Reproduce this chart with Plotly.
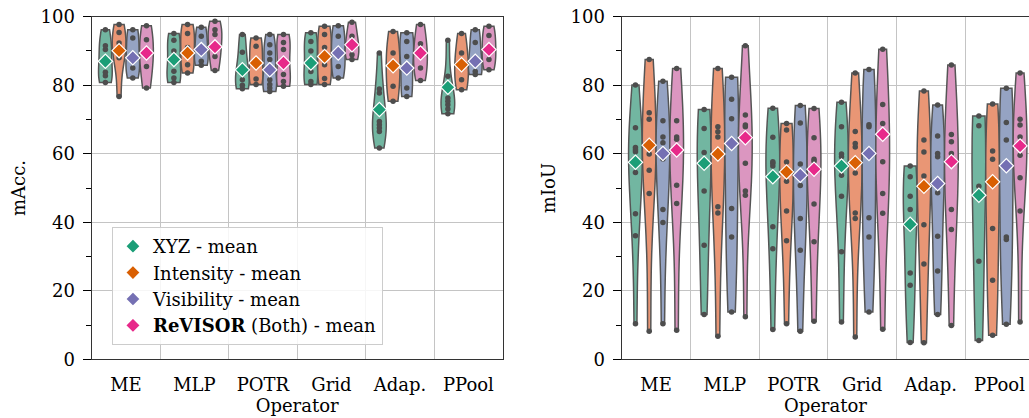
import colorsys
import numpy as np
import plotly.graph_objects as go

categories = ["ME", "MLP", "POTR", "Grid", "Adap.", "PPool"]
groups = ["XYZ", "Intensity", "Visibility", "ReVISOR"]
legend_names = ["XYZ - mean", "Intensity - mean", "Visibility - mean",
                "<b>ReVISOR</b> (Both) - mean"]

# ---- mAcc. observations (per operator) ----
macc_xyz = [
    [96.2, 91.5, 90.4, 83.8, 82.8, 80.8],
    [95.1, 93.1, 90.0, 84.1, 82.1, 80.8],
    [94.8, 89.6, 84.5, 81.6, 80.0, 79.0],
    [95.3, 92.8, 90.0, 84.0, 81.1, 80.2],
    [89.4, 78.9, 77.7, 69.4, 68.5, 67.5, 66.5, 61.7],
    [93.1, 82.6, 76.3, 75.3, 74.3, 73.1, 71.7],
]
macc_xyz_mean = [87.0, 87.5, 84.5, 86.5, 72.9, 79.4]
macc_intensity = [
    [97.7, 95.4, 92.3, 89.5, 88.0, 76.7],
    [97.7, 95.1, 91.0, 86.0, 83.6],
    [93.8, 91.4, 86.0, 81.8, 80.2],
    [97.2, 94.8, 91.0, 86.0, 82.0, 80.2],
    [95.7, 89.4, 86.0, 79.7, 75.3],
    [95.1, 89.4, 86.0, 81.6, 78.7],
]
macc_intensity_mean = [90.1, 89.4, 86.5, 88.4, 85.7, 86.0]
macc_visibility = [
    [96.2, 93.8, 88.0, 85.0, 82.1],
    [96.9, 94.3, 90.0, 87.0, 85.8],
    [94.8, 91.8, 89.4, 87.5, 81.6, 80.2, 79.2, 78.2],
    [97.4, 94.3, 89.5, 85.5, 82.1],
    [95.3, 92.8, 88.4, 79.2, 76.7],
    [96.2, 92.5, 87.0, 84.0, 83.1],
]
macc_visibility_mean = [88.0, 90.4, 84.5, 89.4, 85.0, 87.0]
macc_revisor = [
    [97.4, 93.3, 89.0, 85.5, 79.2],
    [98.7, 96.2, 94.8, 91.0, 88.4, 84.3],
    [94.8, 92.5, 90.4, 83.1, 81.1, 79.7],
    [98.4, 94.3, 91.5, 88.9, 87.5],
    [97.7, 92.1, 89.0, 85.0, 81.4],
    [97.2, 94.5, 90.5, 87.5, 84.5],
]
macc_revisor_mean = [89.4, 91.2, 86.5, 91.8, 89.4, 90.4]

# ---- mIoU observations (per operator) ----
miou_xyz = [
    [80.1, 67.6, 61.8, 61.2, 60.6, 54.5, 42.5, 36.1, 10.4],
    [72.9, 67.4, 60.4, 49.1, 33.3, 13.1],
    [73.3, 64.8, 57.7, 57.2, 56.4, 38.7, 32.3, 8.7],
    [75.0, 67.9, 59.9, 59.1, 53.7, 47.6, 31.4, 10.9],
    [56.4, 53.3, 47.6, 43.7, 25.2, 21.6, 4.9],
    [71.0, 68.2, 50.5, 28.6, 5.5],
]
miou_xyz_mean = [57.5, 57.2, 53.3, 56.4, 39.4, 47.9]
miou_intensity = [
    [87.5, 72.0, 70.1, 59.9, 55.2, 48.4, 8.2],
    [84.9, 67.9, 66.4, 64.9, 44.5, 42.7, 6.7],
    [68.8, 66.9, 57.6, 52.0, 43.3, 34.6, 10.4],
    [83.6, 66.5, 63.0, 62.0, 54.4, 42.7, 41.1, 6.5],
    [78.3, 64.0, 60.5, 53.5, 39.3, 27.8, 4.8],
    [74.5, 60.8, 58.4, 38.2, 23.1, 7.0],
]
miou_intensity_mean = [62.5, 59.9, 54.7, 57.4, 50.5, 51.8]
miou_visibility = [
    [81.2, 69.6, 64.9, 63.2, 58.5, 43.7, 39.9, 10.4],
    [82.3, 75.9, 70.2, 44.0, 35.7, 13.8],
    [74.1, 69.0, 57.0, 50.7, 41.1, 31.8, 8.2],
    [84.6, 68.5, 67.9, 41.3, 35.7, 13.8],
    [74.2, 65.2, 60.1, 59.1, 48.6, 35.9, 25.8, 13.1],
    [79.1, 69.1, 64.0, 35.7, 35.0, 10.2],
]
miou_visibility_mean = [60.1, 63.0, 53.7, 60.1, 51.3, 56.5]
miou_revisor = [
    [84.9, 69.6, 64.9, 64.2, 50.8, 45.5, 8.5],
    [91.5, 71.3, 68.4, 67.9, 57.2, 49.1, 47.9, 12.4],
    [73.2, 64.7, 58.4, 57.8, 45.3, 34.3, 11.1],
    [90.5, 74.4, 68.8, 57.7, 48.4, 42.6, 8.8],
    [85.9, 65.6, 63.5, 60.1, 43.7, 37.9, 9.9],
    [83.6, 70.1, 68.4, 64.9, 59.6, 53.0, 43.3, 10.9],
]
miou_revisor_mean = [61.1, 64.7, 55.5, 65.7, 57.7, 62.3]

y_ticks = [0, 20, 40, 60, 80, 100]
y_minor_ticks = [10, 30, 50, 70, 90]

# ---- styling ----
set2 = ["#66c2a5", "#fc8d62", "#8da0cb", "#e78ac3"]
mean_colors = ["#1b9e77", "#d95f02", "#7570b3", "#e7298a"]
FONT = "DejaVu Serif"
FS = 18


def desaturate(hexc, prop=0.75):
    r, g, b = (int(hexc[k:k + 2], 16) / 255 for k in (1, 3, 5))
    h, l, s = colorsys.rgb_to_hls(r, g, b)
    r, g, b = colorsys.hls_to_rgb(h, l, s * prop)
    return "rgb(%d,%d,%d)" % (round(r * 255), round(g * 255), round(b * 255))


fill_colors = [desaturate(c) for c in set2]

panels = [
    ("x", "y", [macc_xyz, macc_intensity, macc_visibility, macc_revisor],
     [macc_xyz_mean, macc_intensity_mean, macc_visibility_mean, macc_revisor_mean], True),
    ("x2", "y2", [miou_xyz, miou_intensity, miou_visibility, miou_revisor],
     [miou_xyz_mean, miou_intensity_mean, miou_visibility_mean, miou_revisor_mean], False),
]


def scott_bw(vals):
    v = np.asarray(vals, dtype=float)
    return float(np.std(v, ddof=1) * len(v) ** (-1 / 5))


fig = go.Figure()
slot = 0.2
for xa, ya, series, means, show_leg in panels:
    for j, data in enumerate(series):
        off = (j - (len(groups) - 1) / 2) * slot
        for i, vals in enumerate(data):
            fig.add_trace(go.Violin(
                x=[i + off] * len(vals), y=vals, xaxis=xa, yaxis=ya,
                width=slot, scalemode="width", spanmode="hard",
                bandwidth=scott_bw(vals),
                fillcolor=fill_colors[j], opacity=1,
                line=dict(color="#555555", width=1.5),
                points="all", pointpos=0, jitter=0,
                marker=dict(color="#4d4d4d", size=5.5),
                box_visible=False, meanline_visible=False,
                showlegend=False, name=groups[j],
            ))
    for j, mvals in enumerate(means):
        off = (j - (len(groups) - 1) / 2) * slot
        fig.add_trace(go.Scatter(
            x=[i + off for i in range(len(categories))], y=mvals,
            xaxis=xa, yaxis=ya, mode="markers",
            marker=dict(symbol="diamond", size=11, color=mean_colors[j],
                        line=dict(color="white", width=1.2)),
            name=legend_names[j], legendgroup=groups[j], showlegend=show_leg,
        ))

grid_c = "#c4c4c4"
line_c = "#333333"
xcommon = dict(
    tickmode="array", tickvals=list(range(len(categories))), ticktext=categories,
    ticks="outside", ticklen=9, tickcolor="rgba(0,0,0,0)",
    showgrid=False, zeroline=False, showline=True, linecolor=line_c, linewidth=1.3,
    mirror=True,
    minor=dict(tickmode="array",
               tickvals=[i + 0.5 for i in range(len(categories) - 1)],
               showgrid=True, gridcolor=grid_c, gridwidth=1, ticks=""),
    title=dict(text="Operator", standoff=2, font=dict(size=FS)),
    tickfont=dict(size=FS), automargin=False,
)
ycommon = dict(
    range=[0, 100], tickmode="array", tickvals=y_ticks,
    ticks="outside", ticklen=8, tickcolor="black", tickwidth=1,
    ticklabelstandoff=4,
    showgrid=True, gridcolor=grid_c, gridwidth=1, zeroline=False,
    showline=True, linecolor=line_c, linewidth=1.3,
    minor=dict(tickmode="array", tickvals=y_minor_ticks, ticks="outside",
               ticklen=5, tickcolor="black", showgrid=False),
    tickfont=dict(size=FS), automargin=False,
)

fig.update_layout(
    width=1029, height=418,
    margin=dict(l=0, r=0, t=0, b=0),
    plot_bgcolor="white", paper_bgcolor="white",
    font=dict(family=FONT, size=FS, color="black"),
    violinmode="overlay",
    xaxis=dict(domain=[0.0891, 0.4885], range=[-0.5, 5.5], anchor="y", **xcommon),
    yaxis=dict(domain=[0.1404, 0.96], anchor="x", mirror=True,
               title=dict(text="mAcc.", standoff=10, font=dict(size=FS)), **ycommon),
    xaxis2=dict(domain=[0.6042, 1.0], range=[-0.5, 5.43], anchor="y2", **xcommon),
    yaxis2=dict(domain=[0.1404, 0.96], anchor="x2", mirror=False,
                title=dict(text="mIoU", standoff=10, font=dict(size=FS)), **ycommon),
    legend=dict(x=0.1088, y=0.457, xanchor="left", yanchor="top",
                bgcolor="rgba(255,255,255,0.85)", bordercolor="#cccccc", borderwidth=1,
                font=dict(size=FS), tracegroupgap=0, itemsizing="constant",
                itemwidth=30),
)

fig.write_html("out.html")
